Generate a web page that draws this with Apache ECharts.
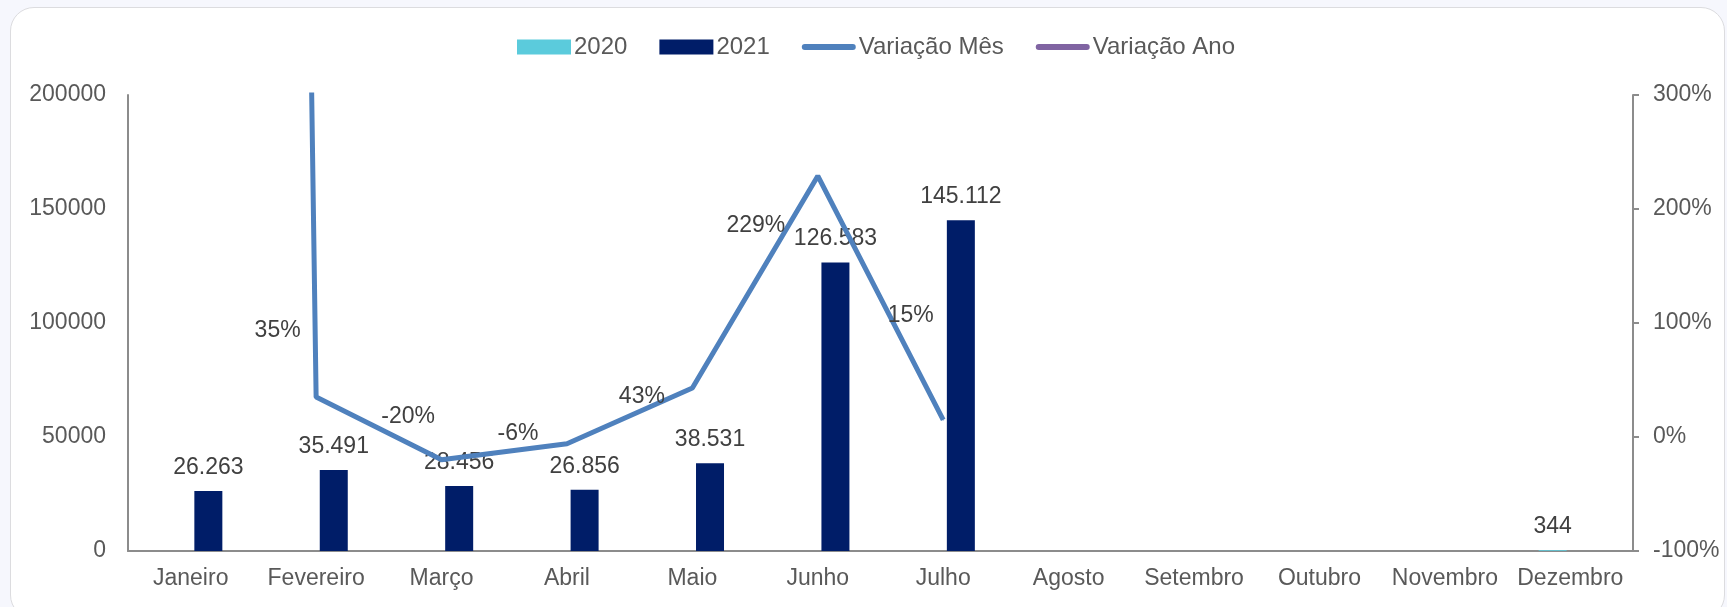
<!DOCTYPE html>
<html>
<head>
<meta charset="utf-8">
<script src="https://cdn.jsdelivr.net/npm/echarts/dist/echarts.min.js"></script>
<style>
  html, body { margin: 0; padding: 0; background: #f6f7fd; }
  #card { position: absolute; left: 10px; top: 7px; width: 1713px; height: 610px;
          background: #fff; border: 1.5px solid #dcdcdf; border-radius: 24px; }
  #grafico { position: absolute; left: 0; top: 0; width: 1727px; height: 607px; }
</style>
</head>
<body>
<div id="card"></div>
<div id="grafico"></div>
<script>
var meses = ['Janeiro', 'Fevereiro', 'Março', 'Abril', 'Maio', 'Junho', 'Julho', 'Agosto', 'Setembro', 'Outubro', 'Novembro', 'Dezembro']
var ano2020 = [null, null, null, null, null, null, null, null, null, null, null, 344]
var ano2021 = [26263, 35491, 28456, 26856, 38531, 126583, 145112, null, null, null, null, null]
// variacao em %, janeiro vem sobre dezembro/2020 (sai do grafico)
var variacaoMes = [7535, 35, -20, -6, 43, 229, 15, null, null, null, null, null]
var variacaoAno = [null, null, null, null, null, null, null, null, null, null, null, null]
var eixoEsq = [0, 200000, 50000]
var eixoDir = [-100, 300, 100]

// onde o excel deixou os rotulos da linha (dx, dy a partir do ponto)
var rotuloDesloc = [null, [-15, -66], [-6, -43], [-28, -10], [-27, 9], [-32, 50], [-9, -104]]

var fonte = 'Liberation Sans, Arial, sans-serif'
var corTexto = '#404040'
var corEixo = '#8c8c8c'
var iconeLinha = 'path://M3,0 H51 A3,3 0 0 1 51,6 H3 A3,3 0 0 1 3,0 Z'

function milhar(v) {
    return String(v).replace(/\B(?=(\d{3})+(?!\d))/g, '.')
}

var dadosMes = variacaoMes.map(function(v, i) {
    if (v === null) return null
    var d = rotuloDesloc[i]
    if (!d) return { value: v, label: { show: false } }
    return { value: v, label: { offset: d } }
})

var myChart = echarts.init(document.getElementById('grafico'))

myChart.setOption({
    animation: false,
    textStyle: { fontFamily: fonte },
    legend: {
        left: 512,
        top: 30,
        icon: 'rect',
        itemWidth: 54,
        itemHeight: 15,
        itemGap: 32,
        textStyle: { fontSize: 24, color: '#595959', padding: [0, 0, 0, -2] },
        data: [
            { name: '2020' },
            { name: '2021' },
            { name: 'Variação Mês', icon: iconeLinha },
            { name: 'Variação Ano', icon: iconeLinha }
        ]
    },
    grid: { left: 128, right: 94, top: 95, bottom: 56 },
    xAxis: {
        type: 'category',
        data: meses,
        axisLine: { lineStyle: { color: corEixo, width: 2 } },
        axisTick: { show: false },
        axisLabel: { color: '#595959', fontSize: 23, margin: 16, interval: 0 }
    },
    yAxis: [{
        type: 'value',
        min: eixoEsq[0], max: eixoEsq[1], interval: eixoEsq[2],
        axisLine: { show: true, lineStyle: { color: corEixo, width: 2 } },
        axisTick: { show: false },
        splitLine: { show: false },
        axisLabel: { color: '#595959', fontSize: 23, margin: 22, formatter: function(v) { return String(v) } }
    }, {
        type: 'value',
        min: eixoDir[0], max: eixoDir[1], interval: eixoDir[2],
        axisLine: { show: true, lineStyle: { color: corEixo, width: 2 } },
        axisTick: { show: true, length: 6, lineStyle: { color: corEixo, width: 2 } },
        splitLine: { show: false },
        axisLabel: { color: '#595959', fontSize: 23, margin: 20, formatter: '{value}%' }
    }],
    series: [{
        name: '2020',
        type: 'bar',
        data: ano2020,
        barWidth: 28,
        barGap: '26%',
        itemStyle: { color: '#5bcbdc' },
        label: { show: true, position: 'top', distance: 12, fontSize: 23, color: corTexto, formatter: function(p) { return milhar(p.value) } }
    }, {
        name: '2021',
        type: 'bar',
        data: ano2021,
        barWidth: 28,
        itemStyle: { color: '#001d68' },
        label: { show: true, position: 'top', distance: 12, fontSize: 23, color: corTexto, formatter: function(p) { return milhar(p.value) } }
    }, {
        name: 'Variação Mês',
        type: 'line',
        yAxisIndex: 1,
        data: dadosMes,
        symbol: 'circle',
        symbolSize: 1,
        showSymbol: true,
        clip: true,
        z: 5,
        lineStyle: { color: '#4f81bd', width: 5 },
        itemStyle: { color: '#4f81bd' },
        label: { show: true, position: 'left', distance: 0, fontSize: 23, color: corTexto, formatter: '{c}%' }
    }, {
        name: 'Variação Ano',
        type: 'line',
        yAxisIndex: 1,
        data: variacaoAno,
        symbol: 'none',
        lineStyle: { color: '#8064a2', width: 5 },
        itemStyle: { color: '#8064a2' }
    }]
})
</script>
</body>
</html>
